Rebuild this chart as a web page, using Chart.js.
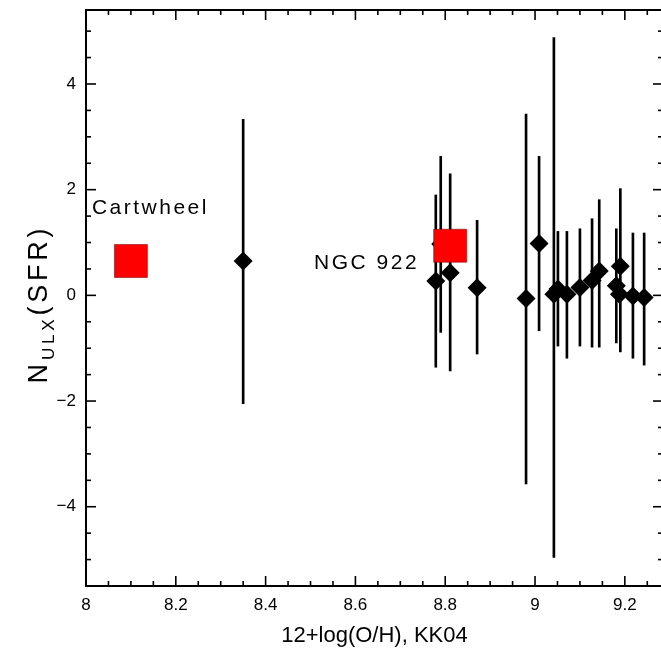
<!DOCTYPE html>
<html><head><meta charset="utf-8">
<style>
html,body{margin:0;padding:0;overflow:hidden;background:#fff;}
#wrap{position:relative;width:664px;height:654px;}
</style>
<script src="https://cdn.jsdelivr.net/npm/chart.js@4/dist/chart.umd.min.js"></script>
</head><body>
<div id="wrap"><canvas id="c"></canvas></div>
<script>
const xTickValues = [8, 8.2, 8.4, 8.6, 8.8, 9, 9.2];
const xTickLabels = ['8', '8.2', '8.4', '8.6', '8.8', '9', '9.2'];
const yTickValues = [-4, -2, 0, 2, 4];
const yTickLabels = ['\u22124', '\u22122', '0', '2', '4'];
const galaxyNames = ['Cartwheel', 'NGC 922'];
const galaxyX = [8.10, 8.811];
const galaxyY = [0.65, 0.94];
const sampleX = [8.35, 8.779, 8.79, 8.811, 8.871, 8.98, 9.009, 9.042, 9.051, 9.071, 9.10, 9.127, 9.143, 9.181, 9.188, 9.19, 9.218, 9.243];
const sampleY = [0.65, 0.27, 0.97, 0.43, 0.145, -0.06, 0.98, 0.02, 0.12, 0.02, 0.15, 0.28, 0.46, 0.18, 0.02, 0.55, -0.01, -0.04];
const sampleHi = [3.33, 1.90, 2.63, 2.30, 1.42, 3.43, 2.63, 4.88, 1.21, 1.21, 1.26, 1.45, 1.81, 1.26, 0.02, 2.02, 1.18, 1.18];
const sampleLo = [-2.05, -1.36, -0.70, -1.43, -1.11, -3.57, -0.67, -4.96, -0.96, -1.19, -0.96, -0.98, -0.98, -0.90, 0.02, -1.07, -1.19, -1.32];

const FAMILY = '"Liberation Sans", Arial, Helvetica, sans-serif';

const framePlugin = {
  id: 'frame',
  afterDatasetsDraw(chart) {
    const {ctx, chartArea: a, scales: {x, y}} = chart;
    ctx.save();
    ctx.strokeStyle = '#000';
    ctx.lineWidth = 2;
    ctx.strokeRect(a.left, a.top, a.right - a.left, a.bottom - a.top);
    ctx.lineWidth = 1.6;
    const seg = (x1, y1, x2, y2) => { ctx.beginPath(); ctx.moveTo(x1, y1); ctx.lineTo(x2, y2); ctx.stroke(); };
    for (let i = 0; ; i++) {
      const v = x.min + i * 0.05;
      if (v > x.max + 1e-9) break;
      const px = x.getPixelForValue(v);
      const L = (i % 4 === 0) ? 10 : 5;
      seg(px, a.bottom, px, a.bottom - L);
      seg(px, a.top, px, a.top + L);
    }
    for (let i = 0; ; i++) {
      const v = -5.5 + i * 0.5;
      if (v > y.max + 1e-9) break;
      if (v < y.min - 1e-9) continue;
      const py = y.getPixelForValue(v);
      const L = (Math.abs(v % 2) < 1e-9) ? 10 : 5;
      seg(a.left, py, a.left + L, py);
      seg(a.right, py, a.right - L, py);
    }
    // galaxy name labels
    ctx.fillStyle = '#000';
    ctx.font = '21px ' + FAMILY;
    ctx.textBaseline = 'middle';
    try { ctx.letterSpacing = '2.5px'; } catch (e) {}
    const gx0 = x.getPixelForValue(galaxyX[0]), gy0 = y.getPixelForValue(galaxyY[0]);
    ctx.textAlign = 'left';
    ctx.fillText(galaxyNames[0], gx0 - 39, gy0 - 53);
    const gx1 = x.getPixelForValue(galaxyX[1]), gy1 = y.getPixelForValue(galaxyY[1]);
    ctx.textAlign = 'right';
    ctx.fillText(galaxyNames[1], gx1 - 31, gy1 + 18);
    ctx.restore();
  },
  afterDraw(chart) {
    const {ctx} = chart;
    ctx.save();
    ctx.fillStyle = '#000';
    const parts = [
      {t: 'N', size: 27, dy: 0},
      {t: 'ULX', size: 17, dy: 7},
      {t: '(SFR)', size: 27, dy: 0}
    ];
    try { ctx.letterSpacing = '3.8px'; } catch (e) {}
    let total = 0;
    parts.forEach(p => { ctx.font = p.size + 'px ' + FAMILY; p.w = ctx.measureText(p.t).width; total += p.w; });
    ctx.translate(27, 304);
    ctx.rotate(-Math.PI / 2);
    ctx.textBaseline = 'alphabetic';
    ctx.textAlign = 'left';
    let cx = -total / 2;
    parts.forEach(p => {
      ctx.font = p.size + 'px ' + FAMILY;
      ctx.fillText(p.t, cx, 20 + p.dy);
      cx += p.w;
    });
    ctx.restore();
  }
};

new Chart(document.getElementById('c'), {
  type: 'scatter',
  data: {
    datasets: [
      {
        type: 'scatter',
        label: 'galaxies',
        data: galaxyX.map((v, i) => ({x: v, y: galaxyY[i]})),
        pointStyle: 'rect',
        pointRadius: 23.3,
        pointBackgroundColor: '#ff0000',
        pointBorderColor: 'rgba(120,0,0,0.55)',
        pointBorderWidth: 1,
        order: 0
      },
      {
        type: 'scatter',
        label: 'sample',
        data: sampleX.map((v, i) => ({x: v, y: sampleY[i]})),
        pointStyle: 'rectRot',
        pointRadius: 9.5,
        pointBackgroundColor: '#000',
        pointBorderColor: '#000',
        pointBorderWidth: 0,
        order: 1
      },
      {
        type: 'bar',
        label: 'errors',
        data: sampleX.map((v, i) => ({x: v, y: [sampleLo[i], sampleHi[i]]})),
        backgroundColor: '#000',
        borderWidth: 0,
        barThickness: 2,
        order: 2
      }
    ]
  },
  options: {
    responsive: true,
    maintainAspectRatio: false,
    animation: false,
    events: [],
    layout: {autoPadding: false, padding: {top: 10, right: 1, bottom: 0, left: 0}},
    plugins: {legend: {display: false}, tooltip: {enabled: false}},
    scales: {
      x: {
        type: 'linear', min: 8, max: 9.285, offset: false,
        grid: {display: false, drawTicks: false},
        border: {display: false},
        afterBuildTicks: s => { s.ticks = xTickValues.map(v => ({value: v})); },
        afterFit: s => { s.height = 68; s.paddingLeft = 0; s.paddingRight = 0; s.paddingTop = 0; s.paddingBottom = 0; },
        ticks: {autoSkip: false, maxRotation: 0, minRotation: 0, padding: 9, color: '#000',
          font: {family: FAMILY, size: 17}, callback: (v, i) => xTickLabels[i]},
        title: {display: true, text: '12+log(O/H), KK04', color: '#000',
          font: {family: FAMILY, size: 22}, padding: {top: 0, bottom: 5}}
      },
      y: {
        type: 'linear', min: -5.5, max: 5.4,
        grid: {display: false, drawTicks: false},
        border: {display: false},
        afterBuildTicks: s => { s.ticks = yTickValues.map(v => ({value: v})); },
        afterFit: s => { s.width = 86; s.paddingLeft = 0; s.paddingRight = 0; s.paddingTop = 0; s.paddingBottom = 0; },
        ticks: {autoSkip: false, padding: 10, color: '#000',
          font: {family: FAMILY, size: 17}, callback: (v, i) => yTickLabels[i]}
      }
    }
  },
  plugins: [framePlugin]
});
</script>
</body></html>
